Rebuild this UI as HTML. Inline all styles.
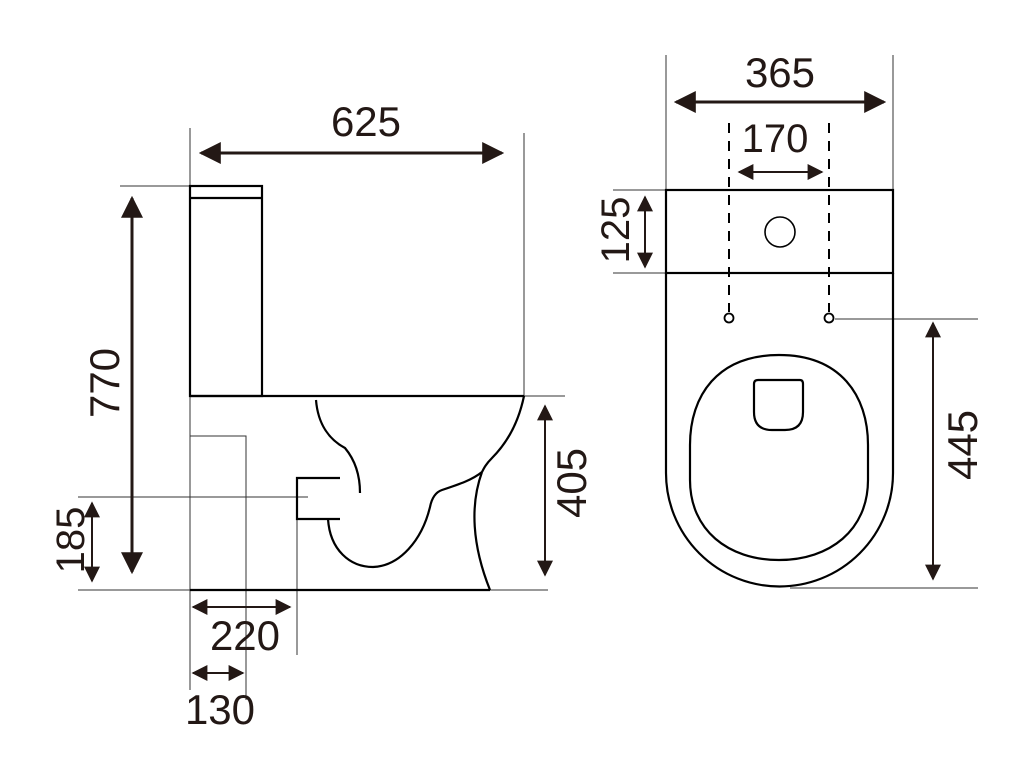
<!DOCTYPE html>
<html><head><meta charset="utf-8"><style>
html,body{margin:0;padding:0;background:#fff;}
svg{display:block;}
text{font-family:"Liberation Sans",Arial,sans-serif;fill:#231815;}
</style></head><body>
<svg width="1024" height="768" viewBox="0 0 1024 768" xmlns="http://www.w3.org/2000/svg">
<defs>
<marker id="b" viewBox="0 0 10 10" refX="9" refY="5" markerWidth="22" markerHeight="22" markerUnits="userSpaceOnUse" orient="auto-start-reverse"><path d="M0,0 L10,5 L0,10 z" fill="#231815"/></marker>
<marker id="c" viewBox="0 0 10 10" refX="9" refY="5" markerWidth="16" markerHeight="16" markerUnits="userSpaceOnUse" orient="auto-start-reverse"><path d="M0,0 L10,5 L0,10 z" fill="#231815"/></marker>
</defs>
<g fill="none" stroke="#000">
<g stroke-width="1" stroke="#333">
<line x1="190" y1="128" x2="190" y2="690"/>
<line x1="524" y1="133" x2="524" y2="396"/>
<line x1="120" y1="186" x2="190" y2="186"/>
<line x1="524" y1="396" x2="565" y2="396"/>
<line x1="78" y1="497" x2="308" y2="497"/>
<line x1="78" y1="590" x2="548" y2="590"/>
<polyline points="190,436 246,436 246,700"/>
<line x1="297" y1="519" x2="297" y2="655"/>
</g>
<g stroke-width="2.2">
<rect x="190" y="186" width="72" height="210"/>
<line x1="190" y1="198" x2="262" y2="198"/>
<line x1="190" y1="396" x2="524" y2="396"/>
<line x1="190" y1="590" x2="490" y2="590"/>
<path d="M524,396 C518,425 505,445 492,458 C486,464 484,468 482,472"/>
<path d="M482,472 C470,505 472,545 490,590"/>
<path d="M316,400 C318,425 330,440 345,448 C355,460 360,475 360,493"/>
<polyline points="340,478 297,478 297,519 340,519"/>
<path d="M328,519 C330,550 350,567 373,567 C400,566 422,540 430,507 C432,497 436,492 442,490 C460,484 472,480 482,472"/>
</g>
<g stroke="#333" stroke-width="1">
<line x1="666" y1="55" x2="666" y2="190"/>
<line x1="893" y1="55" x2="893" y2="198"/>
<line x1="613" y1="190" x2="666" y2="190"/>
<line x1="613" y1="273" x2="666" y2="273"/>
<line x1="835" y1="319" x2="978" y2="319"/>
<line x1="790" y1="588" x2="978" y2="588"/>
</g>
<g stroke-width="2" stroke-dasharray="10,8">
<line x1="729" y1="123" x2="729" y2="312"/>
<line x1="829" y1="123" x2="829" y2="312"/>
</g>
<g stroke-width="2.2">
<rect x="666" y="190" width="227" height="83"/>
<path d="M666,273 L666,473 A113.5,113.5 0 0 0 893,473 L893,273"/>
<path d="M779,355 C840,355 868,395 868,445 L868,480 C868,530 830,560 779,560 C728,560 690,530 690,480 L690,445 C690,395 718,355 779,355 Z"/>
<path d="M758,380 L800,380 Q803,380 803,384 L803,412 Q803,430 785,430 L772,430 Q754,430 754,412 L754,384 Q754,380 758,380 Z"/>
<circle cx="780" cy="232" r="15" stroke-width="1.6"/>
<circle cx="729" cy="318" r="4.5" stroke-width="1.8"/>
<circle cx="829" cy="318" r="4.5" stroke-width="1.8"/>
</g>
</g>
<g stroke="#231815" fill="none">
<g stroke-width="3" marker-start="url(#b)" marker-end="url(#b)">
<line x1="201" y1="153" x2="502" y2="153"/>
<line x1="132" y1="198" x2="132" y2="572"/>
<line x1="676" y1="102" x2="884" y2="102"/>
</g>
<g stroke-width="2" marker-start="url(#c)" marker-end="url(#c)">
<line x1="92" y1="503" x2="92" y2="581"/>
<line x1="545" y1="406" x2="545" y2="575"/>
<line x1="193" y1="607" x2="290" y2="607"/>
<line x1="193" y1="673" x2="243" y2="673"/>
<line x1="739" y1="172" x2="822" y2="172"/>
<line x1="645" y1="197" x2="645" y2="267"/>
<line x1="933" y1="323" x2="933" y2="579"/>
</g>
</g>
<g font-size="42" text-anchor="middle">
<text x="366" y="136">625</text>
<text x="780" y="87">365</text>
<text x="775" y="152" font-size="40">170</text>
<text x="245" y="650">220</text>
<text x="220" y="724">130</text>
<text transform="translate(119,383) rotate(-90)">770</text>
<text transform="translate(84,540) rotate(-90)" font-size="40">185</text>
<text transform="translate(586,483) rotate(-90)">405</text>
<text transform="translate(629,230) rotate(-90)" font-size="40">125</text>
<text transform="translate(977,445) rotate(-90)">445</text>
</g>
</svg>
</body></html>
